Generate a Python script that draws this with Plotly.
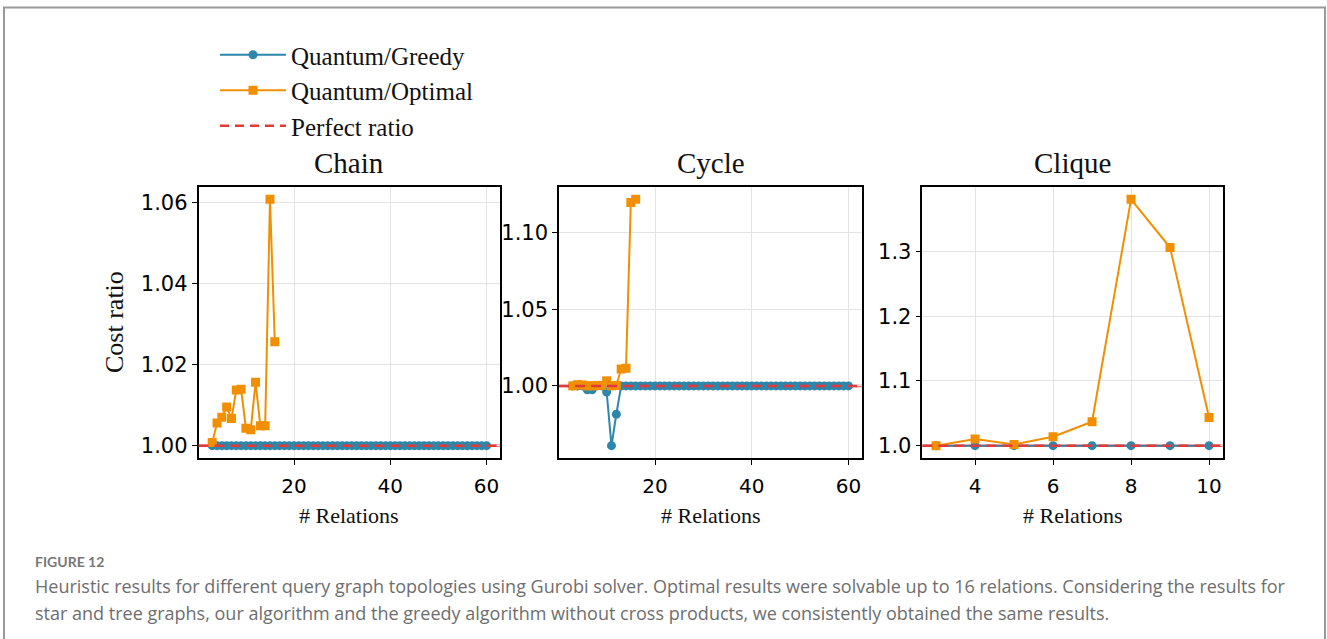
import plotly.graph_objects as go

# ---- data -----------------------------------------------------------------
CHAIN_X = list(range(3, 61))
CHAIN_GREEDY = [1.0] * len(CHAIN_X)
CHAIN_OPT_X = [3, 4, 5, 6, 7, 8, 9, 10, 11, 12, 13, 14, 15, 16]
CHAIN_OPT = [1.0008, 1.0056, 1.0070, 1.0095, 1.0067, 1.0137, 1.0139,
             1.0043, 1.0039, 1.0156, 1.0049, 1.0049, 1.0607, 1.0256]

CYCLE_X = list(range(3, 61))
CYCLE_GREEDY = [1.0, 1.0, 1.0, 0.9975, 0.9975, 1.0, 1.0, 0.9960, 0.9610, 0.9815] + [1.0] * 48
CYCLE_OPT_X = [3, 4, 5, 6, 7, 8, 9, 10, 11, 12, 13, 14, 15, 16]
CYCLE_OPT = [1.0, 1.0008, 1.0006, 1.0, 1.0, 1.0003, 1.0003, 1.0033,
             1.0, 1.0003, 1.0110, 1.0115, 1.1196, 1.1217]

CLIQUE_X = [3, 4, 5, 6, 7, 8, 9, 10]
CLIQUE_GREEDY = [1.0, 1.0, 1.0, 1.0, 1.0, 1.0, 1.0, 1.0]
CLIQUE_OPT = [1.0, 1.0103, 1.0020, 1.0138, 1.0369, 1.3805, 1.3060, 1.0436]

PANEL_TITLES = ["Chain", "Cycle", "Clique"]
X_TICKS = [[20, 40, 60], [20, 40, 60], [4, 6, 8, 10]]
Y_TICKS = [[1.00, 1.02, 1.04, 1.06], [1.00, 1.05, 1.10], [1.0, 1.1, 1.2, 1.3]]
Y_FORMATS = [".2f", ".2f", ".1f"]
PERFECT = 1.0

CAPTION_LABEL = "FIGURE 12"
CAPTION_LINES = [
    "Heuristic results for different query graph topologies using Gurobi solver. "
    "Optimal results were solvable up to 16 relations. Considering the results for",
    "star and tree graphs, our algorithm and the greedy algorithm without cross "
    "products, we consistently obtained the same results.",
]

# ---- style ----------------------------------------------------------------
W, H = 1327, 639
BLUE = "#2e86ab"
ORANGE = "#f18f01"
RED = "#e03a3a"
RED_SOFT = "rgba(240,90,90,0.85)"
SERIF = "Liberation Serif"
SANS = "DejaVu Sans"

X_DOMAINS = [(198.5, 500.3), (559.0, 862.3), (922.4, 1222.7)]
Y_DOMAIN = (1 - 458 / H, 1 - 187 / H)


def padded(lo, hi, frac=0.05):
    span = hi - lo
    return [lo - frac * span, hi + frac * span]


panels = [
    (CHAIN_X, CHAIN_GREEDY, CHAIN_OPT_X, CHAIN_OPT),
    (CYCLE_X, CYCLE_GREEDY, CYCLE_OPT_X, CYCLE_OPT),
    (CLIQUE_X, CLIQUE_GREEDY, CLIQUE_X, CLIQUE_OPT),
]

fig = go.Figure()
layout = dict(
    width=W, height=H,
    margin=dict(l=0, r=0, t=0, b=0),
    paper_bgcolor="white", plot_bgcolor="white",
    showlegend=True,
    legend=dict(
        x=215 / W, y=1 - 32 / H, xanchor="left", yanchor="top",
        font=dict(family=SERIF, size=25, color="#111"),
        bgcolor="rgba(0,0,0,0)", itemwidth=66,
        traceorder="grouped", tracegroupgap=0,
    ),
)
shapes = []
annotations = []

for i, (gx, gy, ox, oy) in enumerate(panels):
    n = "" if i == 0 else str(i + 1)
    xa, ya = "x" + n, "y" + n
    all_x = gx + ox
    all_y = gy + oy
    xr = padded(min(all_x), max(all_x))
    yr = padded(min(all_y), max(all_y))

    axis_common = dict(
        showline=True, linecolor="black", linewidth=1.5, mirror=True,
        ticks="outside", ticklen=5, tickwidth=1.2, tickcolor="black",
        showgrid=True, gridcolor="#e4e4e4", gridwidth=1,
        zeroline=False,
    )
    layout["xaxis" + n] = dict(
        axis_common, domain=[X_DOMAINS[i][0] / W, X_DOMAINS[i][1] / W],
        range=xr, tickvals=X_TICKS[i], anchor=ya, ticklabelstandoff=4,
        tickfont=dict(family=SANS, size=20, color="black"),
    )
    layout["yaxis" + n] = dict(
        axis_common, domain=list(Y_DOMAIN), range=yr,
        tickvals=Y_TICKS[i], tickformat=Y_FORMATS[i], anchor=xa,
        tickfont=dict(family=SANS, size=21, color="black"),
    )

    # perfect-ratio reference: soft solid line under the data, dashed on top
    shapes.append(dict(type="line", xref=xa + " domain", yref=ya,
                       x0=0, x1=1, y0=PERFECT, y1=PERFECT, layer="below",
                       line=dict(color=RED_SOFT, width=2.5)))
    shapes.append(dict(type="line", xref=xa + " domain", yref=ya,
                       x0=0, x1=1, y0=PERFECT, y1=PERFECT, layer="above",
                       line=dict(color=RED, width=2.5, dash="10px,6px")))

    fig.add_trace(go.Scatter(
        x=gx, y=gy, xaxis=xa, yaxis=ya, mode="lines+markers",
        name="Quantum/Greedy", legendgroup="g", showlegend=(i == 0),
        line=dict(color=BLUE, width=2),
        marker=dict(symbol="circle", size=9, color=BLUE),
    ))
    fig.add_trace(go.Scatter(
        x=ox, y=oy, xaxis=xa, yaxis=ya, mode="lines+markers",
        name="Quantum/Optimal", legendgroup="o", showlegend=(i == 0),
        line=dict(color=ORANGE, width=2),
        marker=dict(symbol="square", size=9, color=ORANGE),
    ))

    cx = (X_DOMAINS[i][0] + X_DOMAINS[i][1]) / 2 / W
    annotations.append(dict(text=PANEL_TITLES[i], x=cx, y=1 - 163 / H,
                            xref="paper", yref="paper", showarrow=False,
                            xanchor="center", yanchor="middle",
                            font=dict(family=SERIF, size=29, color="#111")))
    annotations.append(dict(text="# Relations", x=cx, y=1 - 515 / H,
                            xref="paper", yref="paper", showarrow=False,
                            xanchor="center", yanchor="middle",
                            font=dict(family=SERIF, size=22, color="#111")))

# legend entry for the reference line
fig.add_trace(go.Scatter(
    x=[None], y=[None], mode="lines", name="Perfect ratio", legendgroup="p",
    line=dict(color=RED, width=2.5, dash="9px,6px"),
))

annotations.append(dict(text="Cost ratio", x=115 / W, y=1 - 322 / H,
                        xref="paper", yref="paper", showarrow=False,
                        textangle=-90, xanchor="center", yanchor="middle",
                        font=dict(family=SERIF, size=26, color="#111")))

annotations.append(dict(text="<b>" + CAPTION_LABEL + "</b>", x=33 / W, y=1 - 561 / H,
                        xref="paper", yref="paper", showarrow=False,
                        xanchor="left", yanchor="middle",
                        font=dict(family="Lato", size=14, color="#777")))
for k, line in enumerate(CAPTION_LINES):
    annotations.append(dict(text=line, x=33 / W, y=1 - (586 + 27 * k) / H,
                            xref="paper", yref="paper", showarrow=False, align="left",
                            xanchor="left", yanchor="middle",
                            font=dict(family="Open Sans", size=18, color="#6e6e6e")))

# page frame
shapes.append(dict(type="rect", xref="paper", yref="paper",
                   x0=4 / W, x1=1325 / W, y0=-0.05, y1=1 - 7.5 / H,
                   line=dict(color="#999", width=2), layer="below"))

layout["shapes"] = shapes
layout["annotations"] = annotations
fig.update_layout(**layout)

fig.write_html("out.html")
